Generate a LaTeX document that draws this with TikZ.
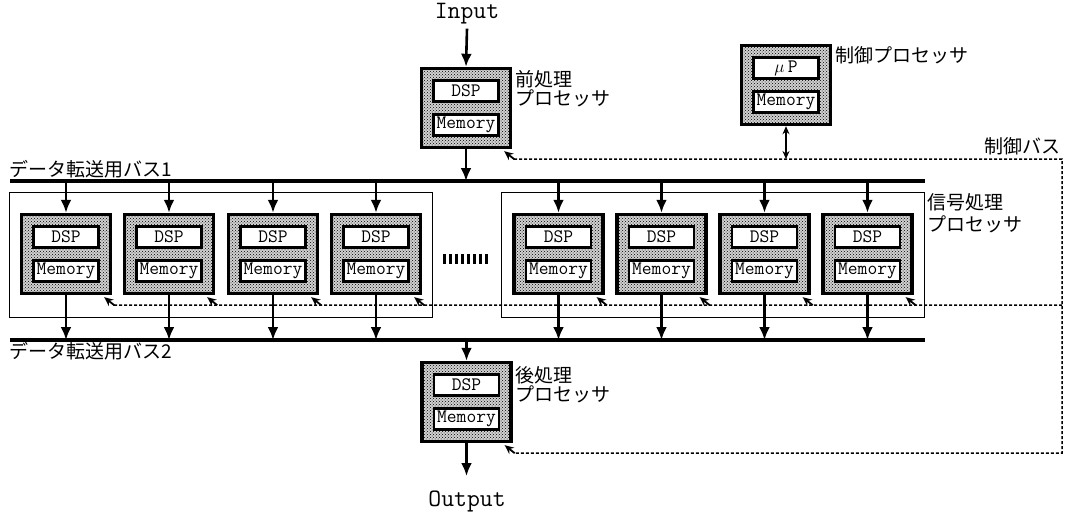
\documentclass[tikz,border=0pt]{standalone}
\usepackage{fontspec}
\newfontfamily\jpf{Noto Sans CJK JP}
\usetikzlibrary{arrows.meta,patterns}
\tikzset{
  procbox/.style={draw, line width=3.4pt, minimum width=89pt, minimum height=79pt, inner sep=0pt,
    fill=black!18, postaction={pattern=crosshatch dots, pattern color=black}},
  inbox/.style={draw, line width=2.6pt, fill=white, minimum width=65pt, minimum height=21pt, inner sep=0pt,
    font=\ttfamily\fontsize{19}{19}\selectfont},
  grpbox/.style={draw, line width=0.9pt, inner sep=0pt},
  arr/.style={line width=2.6pt, -{Latex[length=13pt,width=11pt]}},
  bus/.style={line width=3.2pt},
  ctrl/.style={line width=1.5pt, dash pattern=on 3pt off 2pt},
  ctrlarr/.style={line width=1.8pt, -{Stealth[length=9pt,width=8pt]}},
  dblarr/.style={line width=1.6pt, {Stealth[length=8pt,width=7pt]}-{Stealth[length=8pt,width=7pt]}},
  jp/.style={font=\jpf\fontsize{19}{19}\selectfont, inner sep=0pt},
  io/.style={font=\ttfamily\fontsize{25}{25}\selectfont, inner sep=0pt},
}
\newcommand\procunit[4]{%
  \node[procbox] (#1) at (#2,#3+41) {};
  \node[inbox] (#1u) at (#2,#3+24) {#4};
  \node[inbox] (#1m) at (#2,#3+58) {Memory};
}
\begin{document}
\begin{tikzpicture}[x=1pt,y=-1pt]
\useasboundingbox (0,0) rectangle (1071,514);

% group boxes
\node[grpbox, minimum width=423pt, minimum height=125pt] (gL) at (220.5,254.5) {};
\node[grpbox, minimum width=423pt, minimum height=125pt] (gR) at (712.5,254.5) {};

% processors
\procunit{pre}{466}{67}{DSP}
\procunit{mp}{786}{44}{$\mu$\,P}
\procunit{post}{466.5}{361}{DSP}
\procunit{p1}{66}{213}{DSP}
\procunit{p2}{169}{213}{DSP}
\procunit{p3}{273}{213}{DSP}
\procunit{p4}{376}{213}{DSP}
\procunit{p5}{558.5}{213}{DSP}
\procunit{p6}{661.5}{213}{DSP}
\procunit{p7}{764.5}{213}{DSP}
\procunit{p8}{867.5}{213}{DSP}

% ellipsis bars
\foreach \i in {0,...,7} \fill (443+6*\i,254) rectangle ++(3,10);

% texts
\node[io] (in) at (467,14) {Input};
\node[io] (out) at (467,501) {Output};
\node[jp, anchor=north west, align=left] (preL) at (515,70) {前処理\\プロセッサ};
\node[jp, anchor=north west, align=left] (postL) at (515,366) {後処理\\プロセッサ};
\node[jp, anchor=west] (mpL) at (835,55) {制御プロセッサ};
\node[jp, anchor=north west, align=left, font=\jpf\fontsize{19}{22}\selectfont] (sigL) at (927,193) {信号処理\\プロセッサ};
\node[jp, anchor=east] (cbL) at (1061,146) {制御バス};
\node[jp, anchor=west] (b1T) at (9,169) {データ転送用バス1};
\node[jp, anchor=west] (b2T) at (9,351) {データ転送用バス2};

% buses
\coordinate (b1L) at (10,181);
\coordinate (b1R) at (925,181);
\coordinate (b2L) at (10,340);
\coordinate (b2R) at (925,340);
\draw[bus] (b1L) -- (b1R);
\draw[bus] (b2L) -- (b2R);

% data arrows
\coordinate (outA) at (466.5,476);
\draw[arr] (in.south) ++(0,4) -- (pre.north);
\draw[arr] (pre.south) -- (pre.south |- b1L);
\foreach \p in {p1,p2,p3,p4,p5,p6,p7,p8} {
  \draw[arr] (\p.north |- b1L) -- (\p.north);
  \draw[arr] (\p.south) -- (\p.south |- b2L);
}
\draw[arr] (post.north |- b2L) -- (post.north);
\draw[arr] (post.south) -- (outA);

% control bus
\coordinate (cTR) at (1062,159);
\coordinate (cMR) at (1062,305);
\coordinate (cBR) at (1062,453);
\draw[ctrl] ([shift={(2,10)}]pre.south east) -- (cTR) -- (cBR) -- ([shift={(2,10)}]post.south east);
\draw[ctrl] ([shift={(2,10)}]p1.south east) -- (cMR);
\foreach \p in {pre,post,p1,p2,p3,p4,p5,p6,p7,p8}
  \draw[ctrlarr] ([shift={(2,10)}]\p.south east) -- ([shift={(-8,2)}]\p.south east);
\draw[dblarr] (mp.south) -- (mp.south |- cTR);
\end{tikzpicture}
\end{document}
